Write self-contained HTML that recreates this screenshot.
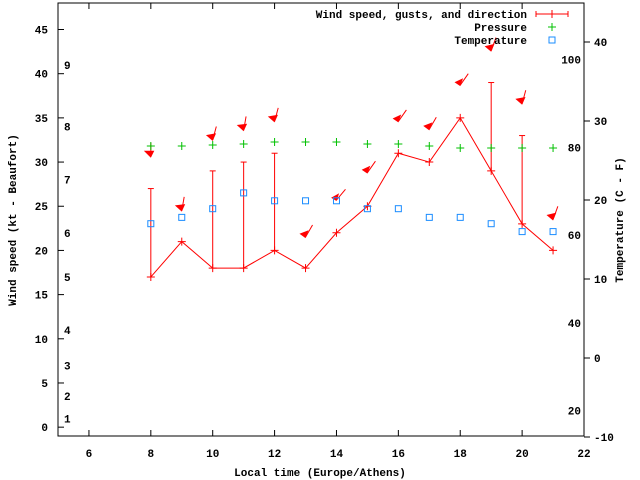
<!DOCTYPE html>
<html><head><meta charset="utf-8"><style>
html,body{margin:0;padding:0;background:#fff}
svg{display:block}
text{font-family:"Liberation Mono",monospace;font-size:11px;font-weight:bold;fill:#000}
</style></head><body>
<svg id="chart" width="640" height="480" xmlns="http://www.w3.org/2000/svg"></svg>
<script>
const hours=[8,9,10,11,12,13,14,15,16,17,18,19,20,21];
const windSpeed=[17,21,18,18,20,18,22,25,31,30,35,29,23,20];
const gustHours=[8,10,11,12,19,20];
const gustValues=[27,29,30,31,39,33];
const pressure=[1011,1011,1011.5,1012,1013,1013,1013,1012,1012,1011,1010,1010,1010,1010];
const temperature=[17,17.8,18.9,20.9,19.9,19.9,19.9,18.9,18.9,17.8,17.8,17,16,16];
const arrowY=[30.6,24.5,32.5,33.6,34.6,21.5,25.7,28.8,34.6,33.7,38.7,42.6,36.6,23.5];
const arrowDir=[0,350,345,350,345,330,320,325,325,330,325,340,345,340];
const xTicks=[6,8,10,12,14,16,18,20,22];
const yTicks=[0,5,10,15,20,25,30,35,40,45];
const cTicks=[-10,0,10,20,30,40];
const fLabels=[20,40,60,80,100];
const bftLabels=[1,2,3,4,5,6,7,8,9];
const bftKt=[1,3.5,7,11,17,22,28,34,41];

const L=58,R=584,T=3,B=436;
const X=h=>L+(h-5)*(R-L)/17;
const Y=v=>B-(v+1)*(B-T)/49;
const TC=c=>437-(c+10)*7.9;
const TF=f=>TC((f-32)*5/9);
const PY=p=>148-(p-1010)*2;
const svg=document.getElementById('chart');
const NS='http://www.w3.org/2000/svg';
function mk(tag,attrs,parent){const e=document.createElementNS(NS,tag);for(const k in attrs)e.setAttribute(k,attrs[k]);(parent||svg).appendChild(e);return e;}
function txt(x,y,s,anchor,parent){const t=mk('text',{x:x,y:y,'text-anchor':anchor||'start'},parent);t.textContent=s;return t;}

const frame=mk('rect',{x:L,y:T,width:R-L,height:B-T,fill:'none',stroke:'#000','stroke-width':1});


const xg=mk('g',{});
xTicks.forEach(h=>{const x=X(h);mk('line',{x1:x,y1:B,x2:x,y2:B-6,stroke:'#000'},xg);mk('line',{x1:x,y1:T,x2:x,y2:T+6,stroke:'#000'},xg);
 const t=txt(x,B+21,String(h),'middle',xg);});
const yg=mk('g',{});
yTicks.forEach(v=>{const y=Y(v);mk('line',{x1:L,y1:y,x2:L+6,y2:y,stroke:'#000'},yg);
 const t=txt(L-10,y+4,String(v),'end',yg);});
const bg=mk('g',{});
bftLabels.forEach((b,i)=>{const t=txt(L+6,Y(bftKt[i])+4,String(b),'start',bg);});
const rg=mk('g',{});
cTicks.forEach(c=>{const y=TC(c);mk('line',{x1:R,y1:y,x2:R+6,y2:y,stroke:'#000'},rg);
 const t=txt(R+10,y+4,String(c),'start',rg);});
fLabels.forEach(f=>{const t=txt(R-3,TF(f)+4,String(f),'end',rg);});

let t=txt(320,476,'Local time (Europe/Athens)','middle');
t=txt(0,0,'Wind speed (kt - Beaufort)','middle');t.setAttribute('transform','translate(16,220) rotate(-90)');
t=txt(0,0,'Temperature (C - F)','middle');t.setAttribute('transform','translate(623,220) rotate(-90)');

// gusts
const gg=mk('g',{stroke:'#f00','stroke-width':1});
gustHours.forEach((h,i)=>{const x=X(h),j=hours.indexOf(h);const b=mk('line',{x1:x,y1:Y(windSpeed[j]),x2:x,y2:Y(gustValues[i])},gg);
 
 mk('line',{x1:x-3,y1:Y(gustValues[i]),x2:x+3,y2:Y(gustValues[i])},gg);});
// wind line
const pl=mk('polyline',{points:hours.map((h,i)=>X(h)+','+Y(windSpeed[i])).join(' '),fill:'none',stroke:'#f00','stroke-width':1});

hours.forEach((h,i)=>{const x=X(h),y=Y(windSpeed[i]);const p=mk('path',{d:`M${x-4},${y}H${x+4}M${x},${y-4}V${y+4}`,stroke:'#f00'});
 });
// arrows
hours.forEach((h,i)=>{const x=X(h)+(i===6?0:0),y=Y(arrowY[i]);const a=arrowDir[i]*Math.PI/180;
 const dx=-Math.sin(a),dy=Math.cos(a);// unit vector from tip back to tail (pointing up)
 const g=mk('g',{});
 mk('line',{x1:x,y1:y,x2:x+dx*14*(-1)*-1,y2:y-dy*14,stroke:'#f00'},g);
 const px=-dy,py=dx;const bx=x-dx*-6,by=y-dy*6;
 mk('polygon',{points:`${x},${y+1} ${x+dx*0-7*Math.cos(a)*0.5 - 3.5*Math.cos(a)},${by-3.5*Math.sin(a)} ${x+3.5*Math.cos(a)},${by+3.5*Math.sin(a)}`,fill:'#f00'},g);
});
// pressure
hours.forEach((h,i)=>{const x=X(h),y=PY(pressure[i]);const p=mk('path',{d:`M${x-4},${y}H${x+4}M${x},${y-4}V${y+4}`,stroke:'#00c000'});
 });
// temperature
hours.forEach((h,i)=>{const x=X(h),y=TC(temperature[i]);const r=mk('rect',{x:x-3,y:y-3,width:6,height:6,fill:'none',stroke:'#1a8cff'});
 });
// legend
const lg=mk('g',{});
[['Wind speed, gusts, and direction',18],['Pressure',31],['Temperature',44]].forEach((e,i)=>{
 const tt=txt(527,e[1],e[0],'end',lg);});
mk('line',{x1:536,y1:14,x2:568,y2:14,stroke:'#f00'},lg);mk('line',{x1:536,y1:11,x2:536,y2:17,stroke:'#f00'},lg);mk('line',{x1:568,y1:11,x2:568,y2:17,stroke:'#f00'},lg);
mk('path',{d:'M548,14H556M552,10V18',stroke:'#f00'},lg);
mk('path',{d:'M548,27H556M552,23V31',stroke:'#00c000'},lg);
mk('rect',{x:549,y:37,width:6,height:6,fill:'none',stroke:'#1a8cff'},lg);
</script>
</body></html>
